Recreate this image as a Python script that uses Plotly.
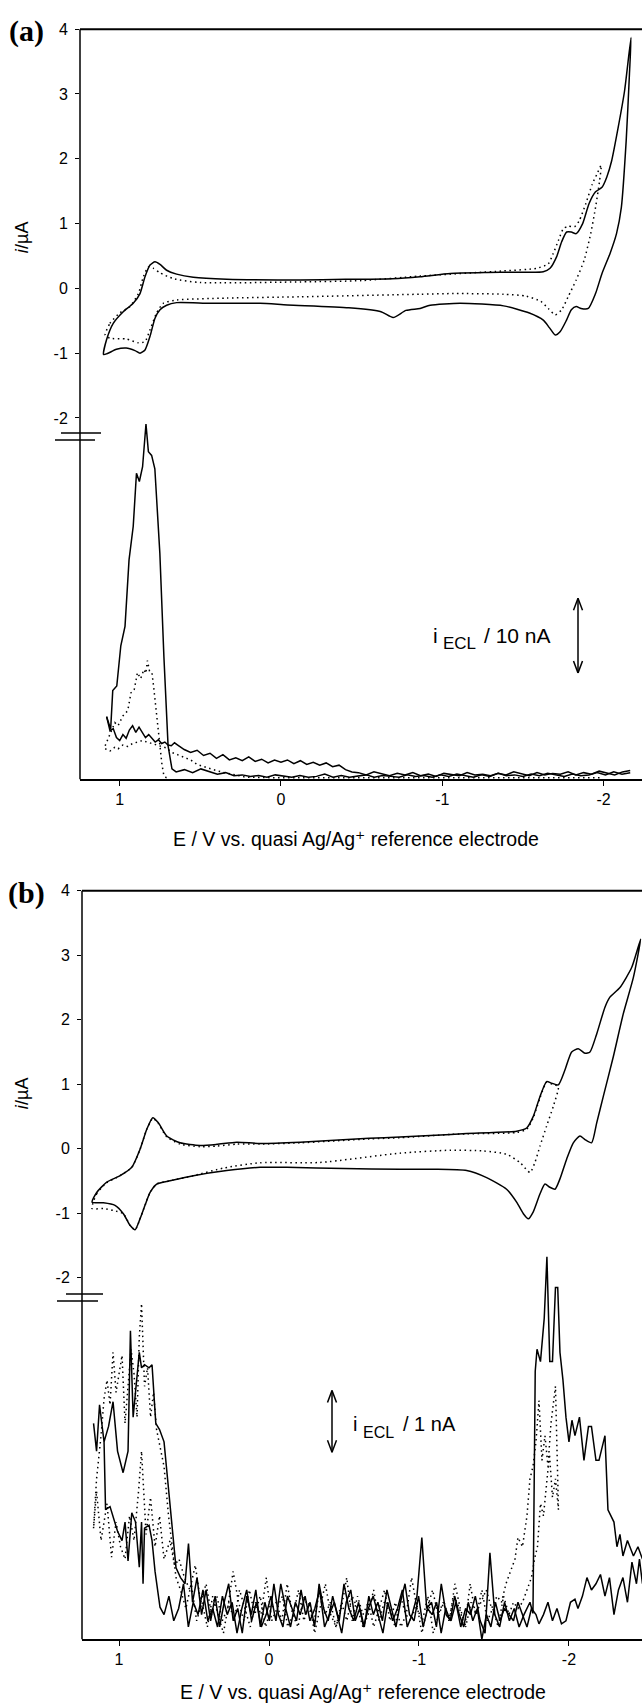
import numpy as np
import plotly.graph_objects as go

# ---------------- DATA ----------------
# Panel (a) cyclic voltammogram, solid loop (E in V, i in uA)
cv_a_solid_E = [1.10, 1.081, 1.04, 0.978, 0.916, 0.874, 0.843, 0.812, 0.781, 0.75, 0.709, 0.647, 0.544, 0.337,
                -0.118, -0.40, -0.69, -0.862, -1.05, -1.275, -1.45, -1.626, -1.668, -1.709, -1.74, -1.771,
                -1.80, -1.83, -1.87, -1.91, -1.95, -1.99, -2.02, -2.05, -2.09, -2.13, -2.17,
                -2.16, -2.14, -2.11, -2.08, -2.04, -1.99, -1.95, -1.905, -1.86, -1.83, -1.80, -1.77, -1.73,
                -1.70, -1.665, -1.626, -1.54, -1.38, -1.11, -0.925, -0.862, -0.775, -0.695, -0.62, -0.42,
                -0.04, 0.13, 0.44, 0.647, 0.709, 0.75, 0.781, 0.812, 0.843, 0.874, 0.905, 0.96, 1.02, 1.08, 1.10]
cv_a_solid_i = [-1.02, -0.79, -0.54, -0.36, -0.23, -0.08, 0.18, 0.36, 0.41, 0.37, 0.28, 0.22, 0.17, 0.14,
                0.13, 0.14, 0.15, 0.18, 0.23, 0.245, 0.25, 0.256, 0.31, 0.49, 0.72, 0.87,
                0.87, 0.845, 1.0, 1.31, 1.49, 1.56, 1.72, 1.97, 2.48, 3.05, 3.87,
                3.30, 2.28, 1.25, 0.845, 0.54, 0.23, -0.08, -0.31, -0.31, -0.28, -0.33, -0.49, -0.67,
                -0.72, -0.61, -0.49, -0.38, -0.27, -0.23, -0.26, -0.31, -0.34, -0.45, -0.36, -0.30,
                -0.255, -0.23, -0.23, -0.22, -0.26, -0.33, -0.46, -0.74, -0.95, -1.0, -0.96, -0.92, -0.94, -1.01, -1.02]

# Panel (a) cyclic voltammogram, dotted loop
cv_a_dot_E = [1.09, 1.06, 1.0, 0.936, 0.884, 0.853, 0.822, 0.791, 0.75, 0.667, 0.50, -0.118, -0.50, -0.862,
              -1.38, -1.585, -1.657, -1.688, -1.72, -1.75, -1.78, -1.82, -1.85, -1.89, -1.93, -1.96, -1.985,
              -1.975, -1.95, -1.92, -1.88, -1.83, -1.78, -1.74, -1.70, -1.657, -1.61, -1.52, -1.38, -1.07,
              -0.862, -0.118, 0.337, 0.647, 0.73, 0.771, 0.812, 0.843, 0.884, 0.96, 1.06, 1.09]
cv_a_dot_i = [-0.72, -0.54, -0.38, -0.28, -0.08, 0.18, 0.33, 0.31, 0.24, 0.15, 0.09, 0.10, 0.12, 0.19,
              0.27, 0.31, 0.38, 0.54, 0.74, 0.92, 0.96, 0.95, 1.05, 1.31, 1.61, 1.77, 1.90,
              1.66, 1.25, 0.845, 0.44, 0.13, -0.13, -0.33, -0.41, -0.31, -0.20, -0.12, -0.09, -0.08,
              -0.09, -0.13, -0.15, -0.18, -0.23, -0.38, -0.64, -0.82, -0.84, -0.78, -0.77, -0.72]

# Panel (a) ECL (nA); solid trace with the large peak
ecl_a_s1_E = [1.081, 1.056, 1.043, 1.018, 0.993, 0.967, 0.942, 0.916, 0.896, 0.878, 0.858, 0.837, 0.822,
              0.802, 0.782, 0.751, 0.726, 0.70, 0.676]
ecl_a_s1_I = [8.4, 6.7, 11.9, 12.5, 17.9, 20.5, 29.4, 33.9, 41.0, 39.9, 41.9, 47.6, 43.9,
              43.4, 41.6, 30.3, 16.5, 4.5, 1.4]
ecl_a_s1_tail = [1.0, 1.3, 0.9, 1.4, 1.0, 0.7, 0.9, 0.5, 0.6, 0.4, 0.5, 0.3, 0.6, 0.4, 0.3, 0.5, 0.3, 0.4,
                 0.7, 0.3, 0.5, 0.3, 0.4, 0.6, 0.3, 0.5, 0.4, 0.3, 0.6, 0.4, 0.5, 0.3, 0.6, 0.4, 0.7, 0.5,
                 0.3, 0.6, 0.4, 0.8, 0.5, 0.6, 0.4, 0.7, 0.5, 0.8, 0.6, 0.4, 0.7, 0.5, 0.6, 0.9, 0.6, 1.0,
                 0.7, 0.9]
ecl_a_s1_tail_span = (0.65, -2.165)
# solid trace, smaller
ecl_a_s2_E = [1.081, 1.06, 1.04, 1.02, 1.0, 0.98, 0.96, 0.94, 0.92, 0.90, 0.88, 0.86, 0.84, 0.82, 0.80,
              0.78, 0.76, 0.74, 0.72, 0.70, 0.68, 0.66, 0.64, 0.62, 0.60]
ecl_a_s2_I = [8.4, 6.5, 6.8, 5.6, 5.2, 6.0, 5.5, 6.6, 7.2, 6.3, 7.0, 6.2, 5.6, 6.0, 5.5,
              5.0, 5.3, 4.8, 5.0, 4.6, 4.5, 4.9, 4.6, 4.3, 4.0]
ecl_a_s2_mid = [3.6, 3.9, 3.2, 3.5, 2.8, 3.3, 2.6, 2.9, 2.5, 3.0, 2.4, 2.7, 2.2, 2.6, 2.3, 2.6, 2.1,
                2.5, 2.0, 2.3, 1.9, 2.2, 1.7, 1.9, 1.3, 1.0]
ecl_a_s2_mid_span = (0.56, -0.44)
ecl_a_s2_tail = [0.9, 0.6, 1.0, 0.7, 0.5, 0.8, 0.6, 0.9, 0.5, 0.7, 0.4, 0.8, 0.6, 0.5, 0.9, 0.6, 0.7,
                 0.5, 0.8, 0.6, 1.0, 0.7, 0.5, 0.9, 0.6, 0.8, 0.7, 1.0, 0.6, 0.9, 0.7, 1.1, 0.8, 0.6,
                 1.0, 1.2]
ecl_a_s2_tail_span = (-0.48, -2.165)
# dotted traces
ecl_a_d1_E = [1.09, 1.07, 1.05, 1.03, 1.01, 0.98, 0.95, 0.93, 0.91, 0.89, 0.87, 0.85, 0.838, 0.828,
              0.815, 0.80, 0.79, 0.777, 0.765, 0.75, 0.738, 0.726, 0.71, 0.69]
ecl_a_d1_I = [4.5, 5.5, 6.5, 7.6, 7.2, 8.5, 9.2, 11.6, 12.0, 14.3, 13.5, 14.7, 14.2, 15.9,
              14.5, 14.3, 12.5, 9.9, 7.5, 4.1, 2.0, 0.5, 0.2, 0.1]
ecl_a_d2_E = [1.09, 1.06, 1.03, 1.01, 0.98, 0.95, 0.92, 0.89, 0.86, 0.83, 0.80, 0.77, 0.74, 0.71, 0.676,
              0.64, 0.60, 0.56, 0.52, 0.47, 0.42, 0.37, 0.32, 0.27, 0.22, 0.0, -0.5, -1.0, -1.5, -1.98]
ecl_a_d2_I = [4.1, 3.8, 4.3, 4.1, 4.6, 4.4, 4.8, 5.0, 5.2, 5.0, 4.8, 4.6, 4.5, 4.2, 3.6,
              3.3, 2.9, 2.6, 2.0, 1.6, 1.3, 1.0, 0.8, 0.5, 0.3, 0.2, 0.2, 0.2, 0.2, 0.2]

# Panel (b) cyclic voltammogram, solid loop
cv_b_solid_E = [1.18, 1.149, 1.082, 0.993, 0.915, 0.86, 0.815, 0.775, 0.738, 0.682, 0.593, 0.46, 0.349,
                0.215, 0.06, -0.207, -0.667, -0.873, -1.213, -1.318, -1.651, -1.718, -1.762, -1.807,
                -1.851, -1.885, -1.929, -1.973, -2.018, -2.062, -2.107, -2.14, -2.185, -2.24, -2.273,
                -2.34, -2.418, -2.478,
                -2.43, -2.362, -2.296, -2.229, -2.185, -2.151, -2.107, -2.073, -2.029, -1.985, -1.94,
                -1.907, -1.873, -1.84, -1.807, -1.762, -1.729, -1.696, -1.651, -1.584, -1.451, -1.318,
                -1.095, -0.873, -0.5, -0.12, 0.06, 0.282, 0.504, 0.66, 0.749, 0.793, 0.827, 0.86, 0.893,
                0.927, 0.971, 1.027, 1.104, 1.18]
cv_b_solid_i = [-0.83, -0.68, -0.52, -0.42, -0.29, -0.01, 0.30, 0.48, 0.40, 0.195, 0.09, 0.05, 0.066,
                0.10, 0.08, 0.10, 0.16, 0.18, 0.22, 0.235, 0.27, 0.32, 0.50, 0.81,
                1.04, 1.015, 0.99, 1.22, 1.50, 1.55, 1.48, 1.50, 1.78, 2.195, 2.35,
                2.50, 2.81, 3.25,
                2.66, 2.09, 1.43, 0.81, 0.40, 0.09, 0.14, 0.195, 0.09, -0.16, -0.47,
                -0.63, -0.60, -0.55, -0.70, -0.98, -1.09, -1.01, -0.83, -0.63, -0.45, -0.34,
                -0.32, -0.32, -0.31, -0.29, -0.29, -0.34, -0.42, -0.50, -0.55, -0.68, -0.88, -1.09, -1.26,
                -1.19, -1.01, -0.88, -0.84, -0.83]
# Panel (b) cyclic voltammogram, dotted loop
cv_b_dot_E = [1.18, 1.149, 1.082, 0.993, 0.915, 0.86, 0.815, 0.775, 0.738, 0.682, 0.593, 0.46, 0.349, 0.215,
              0.06, -0.207, -0.667, -0.873, -1.213, -1.318, -1.651, -1.718, -1.762, -1.807, -1.851,
              -1.885, -1.929,
              -1.896, -1.851, -1.807, -1.773, -1.74, -1.673, -1.584, -1.429, -1.207, -0.873, -0.338,
              0.06, 0.3, 0.504, 0.66, 0.749, 0.793, 0.827, 0.86, 0.893, 0.927, 0.971, 1.038, 1.104, 1.18]
cv_b_dot_i = [-0.93, -0.70, -0.53, -0.42, -0.29, -0.01, 0.30, 0.47, 0.39, 0.18, 0.07, 0.03, 0.04, 0.07,
              0.07, 0.09, 0.15, 0.17, 0.22, 0.23, 0.25, 0.30, 0.48, 0.79, 1.03,
              1.0, 0.965,
              0.66, 0.35, 0.04, -0.215, -0.37, -0.215, -0.088, -0.036, -0.025, -0.07, -0.215,
              -0.22, -0.30, -0.42, -0.50, -0.55, -0.68, -0.88, -1.09, -1.26, -1.19, -1.01, -0.96, -0.93, -0.93]

# Panel (b) ECL (nA); solid trace 1
ecl_b_s1_left_E = [1.17, 1.15, 1.13, 1.10, 1.07, 1.04, 1.01, 0.973, 0.94, 0.924, 0.906, 0.885, 0.865, 0.85,
                   0.83, 0.80, 0.78, 0.755, 0.73, 0.70, 0.673, 0.646, 0.62, 0.59, 0.56, 0.537]
ecl_b_s1_left_I = [3.5, 3.05, 3.8, 3.2, 3.45, 3.85, 3.05, 2.7, 3.05, 5.0, 3.6, 4.1, 4.65, 4.4,
                   4.45, 4.4, 4.45, 3.5, 3.4, 3.2, 2.5, 1.8, 1.16, 1.0, 0.9, 1.55]
ecl_b_s1_mid = [0.6, 1.0, 0.4, 0.8, 0.3, 0.7, 0.2, 0.6, 0.9, 0.3, 0.5, 0.1, 0.7, 0.4, 0.8, 0.2, 0.6, 0.3,
                0.9, 0.4, 0.2, 0.7, 0.5, 0.3, 0.8, 0.4, 0.6, 0.2, 0.9, 0.5, 0.3, 0.7, 0.4, 0.1, 0.6, 0.8,
                0.3, 0.5, 0.2, 0.7, 0.4, 0.6, 0.3, 0.8, 0.5, 0.2, 0.6, 0.9, 0.4, 0.3, 0.7, 0.2, 0.5, 0.4,
                0.6, 0.1, 0.5, 0.3, 0.7, 0.4, 0.2, 0.6, 0.3, 0.5, 0.0, 0.4, 0.2, 0.6, 0.3, 0.5, 0.4]
ecl_b_s1_mid_span = (0.51, -1.60)
ecl_b_s1_right_E = [-1.63, -1.66, -1.69, -1.72, -1.75, -1.78, -1.80, -1.83, -1.86, -1.89, -1.92, -1.95,
                    -1.98, -2.01, -2.04, -2.06, -2.09, -2.12, -2.15, -2.18, -2.21, -2.24, -2.27, -2.30,
                    -2.33, -2.36, -2.39, -2.42, -2.45, -2.47, -2.49]
ecl_b_s1_right_I = [0.3, 0.6, 0.4, 0.2, 0.5, 0.4, 0.25, 0.4, 0.6, 0.3, 0.5, 0.25, 0.3, 0.6, 0.65, 0.5,
                    0.7, 1.0, 0.8, 0.9, 1.05, 0.7, 1.0, 0.4, 0.8, 1.0, 0.6, 1.25, 0.9, 1.3, 0.9]
# solid trace 2
ecl_b_s2_left_E = [1.10, 1.09, 1.06, 1.03, 1.01, 0.98, 0.96, 0.94, 0.915, 0.89, 0.865, 0.85, 0.84, 0.83,
                   0.80, 0.78, 0.76, 0.727]
ecl_b_s2_left_I = [3.2, 2.1, 2.15, 1.9, 1.75, 1.6, 1.9, 1.27, 2.05, 1.9, 1.17, 1.9, 0.9, 1.8,
                   1.85, 1.6, 1.1, 0.52]
ecl_b_s2_mid = [0.4, 0.7, 0.3, 0.5, 0.9, 0.2, 0.6, 0.4, 0.8, 0.3, 0.5, 0.2, 0.7, 0.4, 0.6, 0.1, 0.5, 0.8,
                0.3, 0.6, 0.2, 0.4, 0.7, 0.3, 0.9, 0.5, 0.2, 0.6, 0.4, 0.7, 0.3, 0.5, 0.8, 0.2, 0.4, 0.6,
                0.3, 0.9, 0.5, 0.3, 0.6, 0.2, 0.5, 0.7, 0.4, 0.1, 0.6, 0.3, 0.5, 0.8, 0.2, 0.4, 0.7, 1.65,
                0.5, 0.6, 0.2, 0.9, 0.4, 0.3, 0.6, 0.2, 0.5, 0.4, 0.7, 0.3, 0.1, 1.4, 0.4, 0.2, 0.6, 0.3,
                0.5, 0.2, 0.4]
ecl_b_s2_mid_span = (0.70, -1.70)
ecl_b_s2_right_E = [-1.74, -1.76, -1.775, -1.787, -1.81, -1.835, -1.853, -1.872, -1.89, -1.91, -1.925,
                    -1.94, -1.96, -1.98, -2.0, -2.02, -2.04, -2.07, -2.10, -2.13, -2.15, -2.18, -2.2,
                    -2.24, -2.26, -2.3, -2.32, -2.34, -2.36, -2.39, -2.43, -2.46, -2.49]
ecl_b_s2_right_I = [0.6, 0.42, 4.34, 4.7, 4.5, 5.2, 6.2, 4.5, 4.5, 5.7, 5.7,
                    4.65, 4.2, 3.6, 3.2, 3.55, 3.3, 3.6, 2.9, 3.45, 3.45, 2.9, 2.9,
                    3.3, 2.1, 1.9, 1.5, 1.7, 1.35, 1.6, 1.35, 1.5, 1.3]
# dotted trace 1
ecl_b_d1_left_E = [1.17, 1.15, 1.12, 1.10, 1.08, 1.06, 1.04, 1.02, 1.0, 0.98, 0.96, 0.94, 0.92, 0.90, 0.88,
                   0.865, 0.85, 0.83, 0.81, 0.79, 0.77, 0.75, 0.72, 0.70, 0.67, 0.64, 0.62]
ecl_b_d1_left_I = [1.8, 2.6, 3.3, 3.9, 4.2, 3.8, 4.65, 4.0, 4.3, 4.6, 3.5, 4.1, 4.7, 4.3, 3.6,
                   4.9, 5.44, 4.1, 4.4, 3.6, 4.0, 3.4, 3.0, 2.8, 2.0, 1.45, 1.0]
ecl_b_d1_mid = [0.8, 0.5, 0.9, 0.3, 0.6, 0.2, 0.7, 0.4, 0.1, 0.6, 0.3, 0.8, 0.5, 0.2, 0.6, 0.4, 1.0, 0.3,
                0.5, 0.7, 0.2, 0.4, 0.8, 0.3, 0.6, 0.1, 0.5, 0.9, 0.4, 0.2, 0.6, 0.3, 0.7, 0.5, 0.2, 0.4,
                0.8, 0.3, 0.6, 0.5, 0.2, 0.7, 0.4, 0.3, 0.6, 0.1, 0.5, 0.8, 0.4, 0.6, 0.3, 0.7, 0.5, 0.2,
                0.9, 0.4, 0.6, 0.8, 0.5, 0.7]
ecl_b_d1_mid_span = (0.59, -1.52)
ecl_b_d1_right_E = [-1.55, -1.58, -1.61, -1.64, -1.66, -1.69, -1.72, -1.74, -1.76, -1.78, -1.80, -1.82,
                    -1.84, -1.86, -1.88, -1.91, -1.93]
ecl_b_d1_right_I = [0.6, 0.9, 1.1, 1.3, 1.65, 1.5, 2.0, 2.6, 2.8, 3.2, 3.87, 2.9, 3.3, 2.8, 3.5, 4.1, 2.1]
# dotted trace 2
ecl_b_d2_right_E = [-1.93, -1.91, -1.89, -1.87, -1.85, -1.83, -1.81, -1.79, -1.77, -1.75, -1.72, -1.69,
                    -1.66, -1.63]
ecl_b_d2_right_I = [2.1, 2.6, 2.3, 3.0, 2.5, 2.0, 2.2, 1.5, 1.3, 1.0, 0.8, 0.6, 0.5, 0.6]
ecl_b_d2_mid = [0.4, 0.7, 0.2, 0.5, 0.3, 0.8, 0.4, 0.6, 0.2, 0.5, 0.9, 0.3, 0.6, 0.4, 0.1, 0.7, 0.3, 0.5,
                1.0, 0.4, 0.2, 0.6, 0.3, 0.8, 0.5, 0.2, 0.6, 0.4, 0.7, 0.3, 1.0, 0.5, 0.2, 0.6, 0.4, 0.8,
                0.3, 0.5, 0.7, 0.2, 0.4, 0.9, 0.3, 0.6, 0.5, 0.2, 0.7, 0.4, 0.8, 0.3, 0.6, 1.1, 0.5, 0.3,
                0.7, 0.4, 0.9, 0.6, 1.2, 0.8, 1.0, 1.3]
ecl_b_d2_mid_span = (-1.60, 0.60)
ecl_b_d2_left_E = [0.63, 0.66, 0.70, 0.73, 0.76, 0.79, 0.82, 0.85, 0.87, 0.90, 0.93, 0.96, 0.99, 1.02,
                   1.05, 1.08, 1.12, 1.15, 1.17]
ecl_b_d2_left_I = [1.2, 1.6, 1.3, 2.0, 1.5, 2.3, 1.7, 3.05, 2.4, 1.6, 2.0, 1.3, 1.5, 1.9,
                   1.33, 2.2, 1.6, 2.4, 1.8]

x_tick_vals = [1, 0, -1, -2]
x_tick_text = ["1", "0", "-1", "-2"]
y_tick_vals = [-2, -1, 0, 1, 2, 3, 4]
y_tick_text = ["-2", "-1", "0", "1", "2", "3", "4"]

x_title = "E / V vs. quasi Ag/Ag\u207a reference electrode"
y_title_i = "i"
y_title_unit = "/\u00b5A"
ecl_i = "i"
ecl_sub = "ECL"
ecl_a_scale = "/ 10 nA"
ecl_b_scale = "/ 1 nA"

# ---------------- LAYOUT HELPERS ----------------
W, H = 642, 1704
def px(x):
    return x / W
def py(y):
    return 1 - y / H

FONT = "Liberation Sans, Arial, DejaVu Sans, sans-serif"
SERIF = "Liberation Serif, Times New Roman, serif"
LW = 1.5
DOT = "1.5px,3.5px"

def join(left_E, left_I, mid, span, right_E, right_I):
    midE = list(np.linspace(span[0], span[1], len(mid)))
    return list(left_E) + midE + list(right_E), list(left_I) + list(mid) + list(right_I)

fig = go.Figure()

def add(E, I, xa, ya, dotted=False, smooth=False):
    line = dict(color="black", width=LW, dash=DOT if dotted else "solid")
    if smooth:
        line.update(shape="spline", smoothing=0.6)
    fig.add_trace(go.Scatter(x=E, y=I, xaxis=xa, yaxis=ya, mode="lines", line=line,
                             showlegend=False, hoverinfo="skip"))

# panel (a)
add(cv_a_dot_E, cv_a_dot_i, "x", "y", True, True)
add(cv_a_solid_E, cv_a_solid_i, "x", "y", False, True)
e, v = join(ecl_a_s1_E, ecl_a_s1_I, ecl_a_s1_tail, ecl_a_s1_tail_span, [], [])
add(e, v, "x", "y2")
e, v = join(ecl_a_s2_E, ecl_a_s2_I, ecl_a_s2_mid, ecl_a_s2_mid_span,
            list(np.linspace(ecl_a_s2_tail_span[0], ecl_a_s2_tail_span[1], len(ecl_a_s2_tail))), ecl_a_s2_tail)
add(e, v, "x", "y2")
add(ecl_a_d1_E, ecl_a_d1_I, "x", "y2", True)
add(ecl_a_d2_E, ecl_a_d2_I, "x", "y2", True)

# panel (b)
add(cv_b_dot_E, cv_b_dot_i, "x2", "y3", True, True)
add(cv_b_solid_E, cv_b_solid_i, "x2", "y3", False, True)
e, v = join(ecl_b_s1_left_E, ecl_b_s1_left_I, ecl_b_s1_mid, ecl_b_s1_mid_span, ecl_b_s1_right_E, ecl_b_s1_right_I)
add(e, v, "x2", "y4")
e, v = join(ecl_b_s2_left_E, ecl_b_s2_left_I, ecl_b_s2_mid, ecl_b_s2_mid_span, ecl_b_s2_right_E, ecl_b_s2_right_I)
add(e, v, "x2", "y4")
e, v = join(ecl_b_d1_left_E, ecl_b_d1_left_I, ecl_b_d1_mid, ecl_b_d1_mid_span, ecl_b_d1_right_E, ecl_b_d1_right_I)
add(e, v, "x2", "y4", True)
e, v = join(ecl_b_d2_right_E, ecl_b_d2_right_I, ecl_b_d2_mid, ecl_b_d2_mid_span, ecl_b_d2_left_E, ecl_b_d2_left_I)
add(e, v, "x2", "y4", True)

tickfont = dict(family=FONT, size=16, color="black")

def xaxis(dom_left, rng, anchor):
    return dict(domain=[dom_left, 1], range=rng, anchor=anchor, showline=True, linecolor="black",
                linewidth=LW, ticks="outside", ticklen=5, tickwidth=1.2, tickcolor="black",
                tickvals=x_tick_vals, ticktext=x_tick_text, tickfont=tickfont,
                showgrid=False, zeroline=False, fixedrange=True)

def cv_yaxis(dom, rng, anchor):
    return dict(domain=dom, range=rng, anchor=anchor, showline=False, ticks="outside", ticklen=4,
                tickwidth=1.2, tickcolor="black", tickvals=y_tick_vals, ticktext=y_tick_text,
                tickfont=tickfont, ticklabelstandoff=4, showgrid=False, zeroline=False)

def ecl_yaxis(dom, rng, anchor):
    return dict(domain=dom, range=rng, anchor=anchor, showline=False, ticks="", showticklabels=False,
                showgrid=False, zeroline=False)

# geometry (pixels)
A_X0, A_TOP, A_BRK, A_BOT, A_ETOP = 80, 21.3, 427, 775, 410
B_X0, B_TOP, B_BRK, B_BOT, B_ETOP = 82, 887, 1295, 1639, 1250

fig.update_layout(
    width=W, height=H, margin=dict(l=0, r=0, t=0, b=0),
    paper_bgcolor="white", plot_bgcolor="rgba(0,0,0,0)",
    xaxis=xaxis(px(A_X0), [1.246, -2.238], "y2"),
    yaxis=cv_yaxis([py(A_BRK), py(A_TOP)], [(281.7 - A_BRK) / 65.1, 4], "x"),
    yaxis2=ecl_yaxis([py(A_BOT), py(A_ETOP)], [0, (A_BOT - A_ETOP) / 7.5], "x"),
    xaxis2=xaxis(px(B_X0), [1.247, -2.487], "y4"),
    yaxis3=cv_yaxis([py(B_BRK), py(B_TOP)], [(1146 - B_BRK) / 64.75, 4], "x2"),
    yaxis4=ecl_yaxis([py(B_BOT), py(B_ETOP)], [0, (B_BOT - B_ETOP) / 62.0], "x2"),
)

shapes = []
def seg(x0, y0, x1, y1, w=LW):
    shapes.append(dict(type="line", xref="paper", yref="paper", x0=px(x0), y0=py(y0), x1=px(x1), y1=py(y1),
                       line=dict(color="black", width=w)))

for X0, TOP, BOT, BRK in [(A_X0, A_TOP, A_BOT, A_BRK), (B_X0, B_TOP, B_BOT, B_BRK)]:
    seg(X0, TOP, X0, BOT)          # left axis line
    seg(X0, TOP, W, TOP, 2)        # top frame line
seg(61, 427, 101, 427)
seg(55, 434, 95, 434)
seg(66, 1292, 103, 1292)
seg(57, 1299, 98, 1299)

def darrow(x, y_top, y_bot, hw=4.5, hl=12):
    seg(x, y_top, x, y_bot)
    seg(x, y_top, x - hw, y_top + hl)
    seg(x, y_top, x + hw, y_top + hl)
    seg(x, y_bot, x - hw, y_bot - hl)
    seg(x, y_bot, x + hw, y_bot - hl)

darrow(578, 593, 668)
darrow(332, 1389, 1451)
fig.update_layout(shapes=shapes)

ann = []
def text(x, y, t, size=18, family=FONT, angle=0, xanchor="center", weight="normal", style="normal"):
    ann.append(dict(x=px(x), y=py(y), xref="paper", yref="paper", text=t, showarrow=False,
                    font=dict(family=family, size=size, color="black", weight=weight, style=style),
                    textangle=angle, xanchor=xanchor, yanchor="middle"))

text(26, 23, "(a)", size=30, family=SERIF, weight="bold")
text(26, 889, "(b)", size=30, family=SERIF, weight="bold")
# rotated y titles: italic i at the bottom, "/uA" above
for yc in (230, 1090):
    text(22, yc + 13.5, y_title_i, size=18, angle=-90, style="italic")
    text(22, yc - 2, y_title_unit, size=18, angle=-90)
text(356, 835, x_title, size=19.5)
text(363, 1692, x_title, size=19.5)
# ECL scale labels: "i" + subscript "ECL" + scale
text(431, 630, ecl_i, size=21, xanchor="left")
text(441, 638, ecl_sub, size=17, xanchor="left")
text(482, 630, ecl_a_scale, size=21, xanchor="left")
text(351, 1423, ecl_i, size=20, xanchor="left")
text(361, 1431, ecl_sub, size=16, xanchor="left")
text(401, 1423, ecl_b_scale, size=20, xanchor="left")
fig.update_layout(annotations=ann)

fig.write_html("out.html")
